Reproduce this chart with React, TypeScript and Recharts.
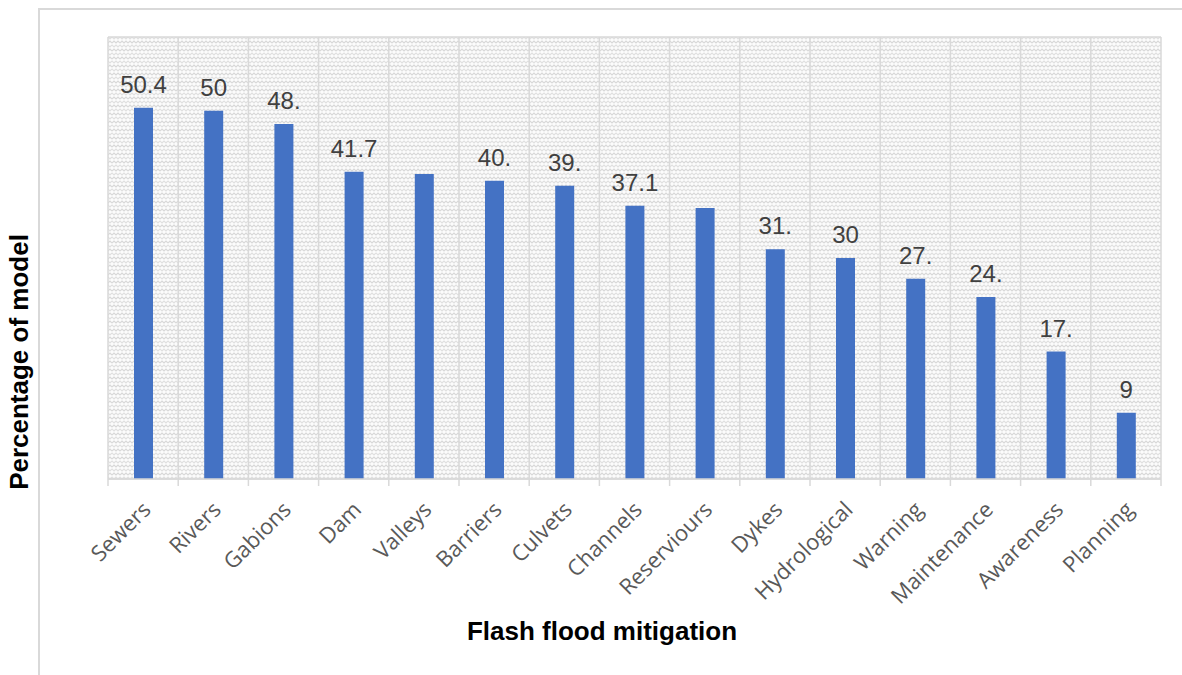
import { BarChart, Bar, XAxis, YAxis, CartesianGrid, LabelList } from 'recharts';

const CATEGORIES = [
  'Sewers', 'Rivers', 'Gabions', 'Dam', 'Valleys', 'Barriers', 'Culvets', 'Channels',
  'Reserviours', 'Dykes', 'Hydrological', 'Warning', 'Maintenance', 'Awareness', 'Planning',
];
const VALUES = [50.4, 50, 48.2, 41.7, 41.4, 40.5, 39.8, 37.1, 36.8, 31.2, 30, 27.2, 24.7, 17.3, 9];
// data labels as they appear (several are cut short, two are missing)
const LABELS = ['50.4', '50', '48.', '41.7', '', '40.', '39.', '37.1', '', '31.', '30', '27.', '24.', '17.', '9'];
const Y_TICKS = [0, 10, 20, 30, 40, 50, 60];

const W = 1182;
const H = 675;
const MARGIN = { top: 37, right: 21, left: 108, bottom: 136 };
const BAND = (W - MARGIN.left - MARGIN.right) / CATEGORIES.length;
const GRID = '#d9d9d9';

const data = CATEGORIES.map((name, i) => ({ name, value: VALUES[i], label: LABELS[i] }));

function Tick(props: any) {
  const { x, y, payload, index } = props;
  const tx = x + 9;
  const ty = y + 32;
  return (
    <g>
      <line x1={x - BAND / 2} x2={x - BAND / 2} y1={y} y2={y + 7} stroke={GRID} strokeWidth={1.5} />
      {index === CATEGORIES.length - 1 && (
        <line x1={x + BAND / 2} x2={x + BAND / 2} y1={y} y2={y + 7} stroke={GRID} strokeWidth={1.5} />
      )}
      <text
        x={tx}
        y={ty}
        transform={`rotate(-45 ${tx} ${ty})`}
        textAnchor="end"
        fill="#595959"
        fontSize={22}
        fontFamily="'Open Sans', sans-serif"
      >
        {payload.value}
      </text>
    </g>
  );
}

export default function App() {
  return (
    <div style={{ position: 'absolute', left: 0, top: 0, width: W, height: H, overflow: 'hidden', background: '#fff' }}>
      <svg width={0} height={0} style={{ position: 'absolute' }}>
        <defs>
          <pattern id="zigzag" width={8} height={8} patternUnits="userSpaceOnUse">
            <rect width={8} height={8} fill="#fcfcfc" />
            <path d="M0 3 L2 1 L4 3 L6 1 L8 3" stroke="#d8d8d8" strokeWidth={1.2} fill="none" />
            <path d="M-2 7 L0 5 L2 7 L4 5 L6 7 L8 5" stroke="#e0e0e0" strokeWidth={1.2} fill="none" />
          </pattern>
        </defs>
      </svg>
      <div style={{ position: 'absolute', left: 38, top: 8, width: 1300, height: 800, border: `2px solid ${GRID}` }} />
      <div style={{ position: 'absolute', left: 0, top: 0 }}>
        <BarChart width={W} height={H} data={data} margin={MARGIN}>
          <CartesianGrid
            stroke={GRID}
            strokeWidth={1.5}
            fill="url(#zigzag)"
            fillOpacity={1}
            verticalCoordinatesGenerator={({ offset }: any) =>
              CATEGORIES.map((_, i) => offset.left + i * (offset.width / CATEGORIES.length)).concat(offset.left + offset.width)
            }
          />
          <XAxis
            dataKey="name"
            interval={0}
            height={60}
            tickSize={0}
            tickMargin={0}
            tickLine={false}
            axisLine={{ stroke: GRID, strokeWidth: 1.5 }}
            tick={<Tick />}
          />
          <YAxis domain={[0, 60]} ticks={Y_TICKS} width={0} tick={false} axisLine={false} tickLine={false} />
          <Bar dataKey="value" fill="#4472C4" barSize={19} isAnimationActive={false}>
            <LabelList
              dataKey="label"
              position="top"
              offset={15}
              fill="#404040"
              fontSize={24}
              fontFamily="'Liberation Sans', Arial, sans-serif"
            />
          </Bar>
        </BarChart>
      </div>
      <div
        style={{
          position: 'absolute', left: 0, width: 1204, top: 616, textAlign: 'center',
          fontFamily: "'Liberation Sans', Arial, sans-serif", fontWeight: 'bold', fontSize: 26, color: '#000',
        }}
      >
        Flash flood mitigation
      </div>
      <div
        style={{
          position: 'absolute', left: 19, top: 362, transform: 'translate(-50%, -50%) rotate(-90deg)',
          whiteSpace: 'nowrap', fontFamily: "'Liberation Sans', Arial, sans-serif", fontWeight: 'bold', fontSize: 26, color: '#000',
        }}
      >
        Percentage of model
      </div>
    </div>
  );
}
